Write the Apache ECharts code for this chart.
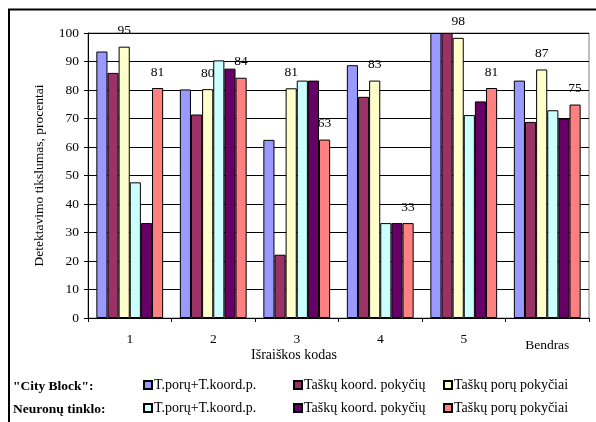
<!DOCTYPE html>
<html>
<head>
<meta charset="utf-8">
<script src="https://cdn.jsdelivr.net/npm/echarts@6/dist/echarts.min.js"></script>
<style>html,body{margin:0;padding:0;background:#fff}#c{width:596px;height:422px}</style>
</head>
<body>
<div id="c"></div>
<script>
const categories = ['1', '2', '3', '4', '5', 'Bendras'];
const seriesNames = ['T.porų+T.koord.p.', 'Taškų koord. pokyčių', 'Taškų porų pokyčiai'];
const rowLabels = ['"City Block":', 'Neuronų tinklo:'];
const cbPairsCoord = [93.5, 80.2, 62.5, 88.7, 100, 83.3];
const cbCoord = [86, 71.4, 22.2, 77.6, 100, 68.8];
const cbPairs = [95.2, 80.3, 80.6, 83.3, 98.3, 87.2];
const nnPairsCoord = [47.6, 90.4, 83.3, 33.3, 71.2, 72.9];
const nnCoord = [33.3, 87.5, 83.3, 33.3, 76, 70];
const nnPairs = [80.7, 84.3, 62.6, 33.3, 80.7, 74.9];
const yTicks = {min: 0, max: 100, interval: 10};

const colors = ['#9999FF', '#993366', '#FFFFCC', '#CCFFFF', '#660066', '#FF8080'];
const datasets = [cbPairsCoord, cbCoord, cbPairs, nnPairsCoord, nnCoord, nnPairs];
const prefixes = ['CB', 'NN'];
const font = 'Liberation Serif';

const series = datasets.map((d, i) => {
  const labeled = (i === 2 || i === 5);
  return {
    name: prefixes[Math.floor(i / 3)] + '|' + seriesNames[i % 3],
    type: 'bar',
    data: d,
    barGap: '0%',
    barCategoryGap: '20%',
    itemStyle: {color: colors[i], borderColor: '#000', borderWidth: 1},
    label: {
      show: labeled, position: 'top', distance: 9,
      fontFamily: font, fontSize: 13.5, color: '#000',
      formatter: p => Math.round(p.value)
    },
    emphasis: {disabled: true}
  };
});

const legendX = [143, 293, 443];
const legendY = [378, 401];
const legends = [];
for (let r = 0; r < 2; r++) {
  for (let c = 0; c < 3; c++) {
    legends.push({
      data: [prefixes[r] + '|' + seriesNames[c]],
      left: legendX[c], top: legendY[r],
      itemWidth: 8, itemHeight: 8, itemGap: 0, padding: 0,
      icon: 'rect',
      selectedMode: false,
      formatter: n => n.split('|')[1],
      textStyle: {fontFamily: font, fontSize: 14, color: '#000', padding: [0, 0, 0, -3]}
    });
  }
}

const chart = echarts.init(document.getElementById('c'));
chart.setOption({
  animation: false,
  backgroundColor: '#fff',
  grid: {left: 88, top: 33, right: 7, bottom: 104, show: true, borderColor: '#808080', borderWidth: 1},
  legend: legends,
  xAxis: {
    type: 'category', data: categories,
    name: 'Išraiškos kodas', nameLocation: 'middle', nameGap: 30, nameMoveOverlap: false,
    nameTextStyle: {fontFamily: font, fontSize: 14, color: '#000', padding: [0, 89, 0, 0]},
    axisLine: {lineStyle: {color: '#000', width: 1}},
    axisTick: {show: true, length: 4, lineStyle: {color: '#000'}},
    axisLabel: {
      interval: 0, hideOverlap: false,
      fontFamily: font, fontSize: 13.5, color: '#000', margin: 14,
      formatter: v => v === 'Bendras' ? '{b|' + v + '}' : v,
      rich: {b: {fontFamily: font, fontSize: 13.5, color: '#000', padding: [6, 0, 0, 0]}}
    }
  },
  yAxis: {
    type: 'value', min: yTicks.min, max: yTicks.max, interval: yTicks.interval,
    name: 'Detektavimo tikslumas, procentai', nameLocation: 'middle', nameGap: 42, nameMoveOverlap: false,
    nameTextStyle: {fontFamily: font, fontSize: 13.5, color: '#000'},
    axisLine: {show: true, lineStyle: {color: '#000'}},
    axisTick: {show: true, length: 4, lineStyle: {color: '#000'}},
    axisLabel: {fontFamily: font, fontSize: 13.5, color: '#000', margin: 9},
    splitLine: {lineStyle: {color: '#000', width: 1}}
  },
  graphic: [
    {type: 'line', shape: {x1: 8, y1: 9.5, x2: 596, y2: 9.5}, style: {stroke: '#000', lineWidth: 2}},
    {type: 'line', shape: {x1: 9, y1: 9, x2: 9, y2: 422}, style: {stroke: '#000', lineWidth: 2}},
    {type: 'text', left: 13, top: 380, style: {text: rowLabels[0], font: 'bold 13.5px "Liberation Serif"', fill: '#000'}},
    {type: 'text', left: 13, top: 403, style: {text: rowLabels[1], font: 'bold 13.5px "Liberation Serif"', fill: '#000'}}
  ],
  series: series
});
</script>
</body>
</html>
